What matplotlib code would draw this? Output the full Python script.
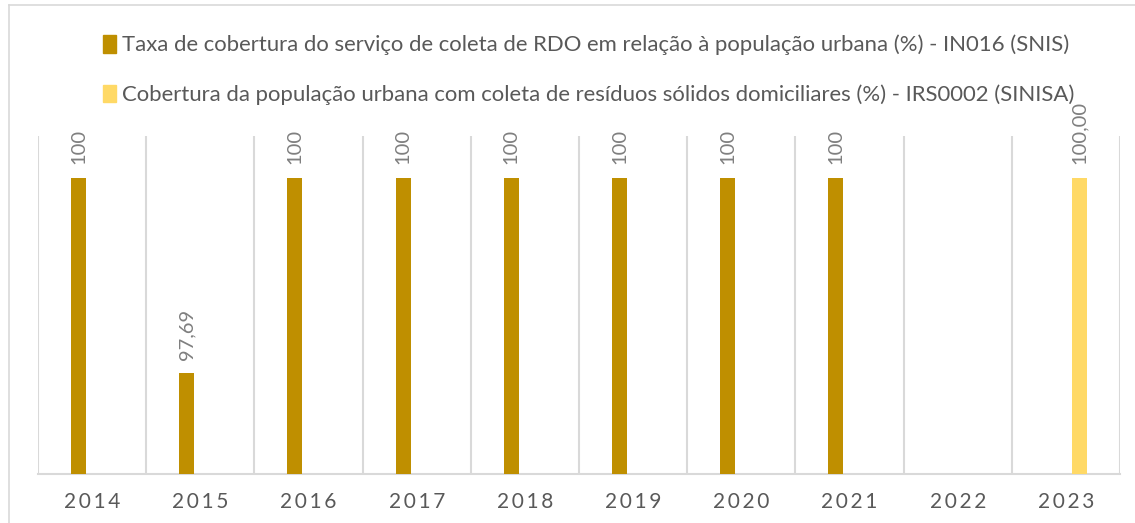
import matplotlib.pyplot as plt
import numpy as np
from matplotlib.patches import Patch
from matplotlib.lines import Line2D

plt.rcParams['font.family'] = ['Lato', 'DejaVu Sans']

years = ['2014', '2015', '2016', '2017', '2018', '2019', '2020', '2021', '2022', '2023']
snis = [100, 97.69, 100, 100, 100, 100, 100, 100, np.nan, np.nan]
sinisa = [np.nan, np.nan, np.nan, np.nan, np.nan, np.nan, np.nan, np.nan, np.nan, 100.00]
snis_labels = ['100', '97,69', '100', '100', '100', '100', '100', '100', '', '']
sinisa_labels = ['', '', '', '', '', '', '', '', '', '100,00']
series_names = [
    'Taxa de cobertura do serviço de coleta de RDO em relação à população urbana (%) - IN016 (SNIS)',
    'Cobertura da população urbana com coleta de resíduos sólidos domiciliares (%) - IRS0002 (SINISA)',
]

GOLD = '#BF8F00'
LIGHT = '#FFD966'
GRID = '#D9D9D9'
TEXT = '#595959'
LABEL = '#7F7F7F'

W, H = 1135, 523
fig = plt.figure(figsize=(W / 100, H / 100), dpi=100)

# chart frame (only top and left edges visible in the crop)
fig.add_artist(Line2D([9 / W, 9 / W], [0, 1 - 5 / H], color=GRID, lw=1.2))
fig.add_artist(Line2D([9 / W, 1], [1 - 5 / H, 1 - 5 / H], color=GRID, lw=1.2))

left, right, top, bottom = 38, 1120, 136, 474
ax = fig.add_axes([left / W, 1 - bottom / H, (right - left) / W, (bottom - top) / H])

x = np.arange(len(years))
bw = 0.139
off = 0.126
b1 = ax.bar(x - off, snis, bw, color=GOLD, zorder=3)
b2 = ax.bar(x + off, sinisa, bw, color=LIGHT, zorder=3)

for bars, labs in ((b1, snis_labels), (b2, sinisa_labels)):
    for rect, lab in zip(bars, labs):
        if not lab:
            continue
        ax.annotate(lab, (rect.get_x() + rect.get_width() / 2, rect.get_height() + rect.get_y()),
                    xytext=(0, 10), textcoords='offset points', rotation=90,
                    ha='center', va='bottom', color=LABEL, fontsize=14.5, annotation_clip=False)

ax.set_xlim(-0.5, len(years) - 0.5)
ax.set_ylim(96.5, 100.5)
for b in np.arange(-0.5, len(years)):
    ax.axvline(b, color=GRID, lw=1.5, zorder=1)

for s in ['top', 'right', 'left']:
    ax.spines[s].set_visible(False)
ax.spines['bottom'].set_color(GRID)
ax.spines['bottom'].set_linewidth(1.5)
ax.set_yticks([])
ax.set_xticks(x)
ax.set_xticklabels(['\u2009'.join(y) for y in years], color=TEXT, fontsize=15)
ax.tick_params(axis='x', length=0, pad=13)

handles = [Patch(color=GOLD), Patch(color=LIGHT)]
fig.legend(handles, series_names, loc='upper left', bbox_to_anchor=(94 / W, 1 - 26 / H),
           frameon=False, fontsize=15.9, labelcolor=TEXT, handlelength=0.6, handleheight=0.85,
           handletextpad=0.25, labelspacing=1.32, borderaxespad=0)

fig.savefig('out.png', dpi=100)
